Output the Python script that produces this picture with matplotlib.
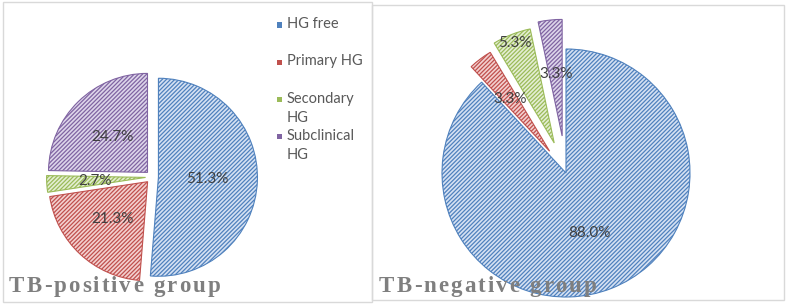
import matplotlib

matplotlib.use("Agg")

import matplotlib.pyplot as plt
from matplotlib.patches import Rectangle
from matplotlib.font_manager import FontProperties, findfont, get_font
import numpy as np

categories = ["HG free", "Primary HG", "Secondary HG", "Subclinical HG"]
legend_labels = ["HG free", "Primary HG", "Secondary\nHG", "Subclinical\nHG"]
tb_positive = [51.3, 21.3, 2.7, 24.7]
tb_negative = [88.0, 3.3, 5.3, 3.3]

line_colors = ["#4f81bd", "#c0504d", "#9bbb59", "#8064a2"]
fill_colors = ["#d5e1f3", "#f3d0cf", "#e4eed3", "#ddd5ea"]

plt.rcParams["font.family"] = ["Lato", "DejaVu Sans"]
plt.rcParams["hatch.linewidth"] = 0.9

W, H = 788, 306
fig = plt.figure(figsize=(W / 100, H / 100), dpi=100)


def px_axes(cx, cy, r, half=1.5):
    # axes centred on pixel (cx, cy) (from top), 1 data unit = r pixels
    size = 2 * half * r
    return fig.add_axes([(cx - half * r) / W, (H - cy - half * r) / H, size / W, size / H])


def draw_pie(ax, values, explode, label_dist, radii):
    wedges, _ = ax.pie(values, startangle=90, counterclock=False, explode=explode,
                       colors=fill_colors, radius=1.0,
                       wedgeprops=dict(linewidth=0.8))
    for w, c, rr in zip(wedges, line_colors, radii):
        w.set_edgecolor(c)
        w.set_hatch("////////")
        w.set_radius(rr)
    for w, v, d in zip(wedges, values, label_dist):
        ang = np.deg2rad((w.theta1 + w.theta2) / 2)
        ax.text(d * np.cos(ang), d * np.sin(ang), f"{v:.1f}%",
                ha="center", va="center", fontsize=11, color="#404040")
    ax.set_xlim(-1.5, 1.5)
    ax.set_ylim(-1.5, 1.5)
    ax.set_aspect("equal")
    ax.axis("off")


ax1 = px_axes(152, 177, 99)
draw_pie(ax1, tb_positive, [0.065] * 4, [0.56, 0.58, 0.58, 0.57], [1.0] * 4)

ax2 = px_axes(566, 173, 124)
draw_pie(ax2, tb_negative, [0.0, 0.22, 0.26, 0.3], [0.52, 0.75, 1.13, 0.8],
         [1.0, 0.93, 0.94, 0.94])

# panel frames
fig.patches.append(Rectangle((3 / W, 4 / H), 369 / W, 300 / H, transform=fig.transFigure,
                             fill=False, edgecolor="#d9d9d9", linewidth=1.0))
fig.patches.append(Rectangle((372 / W, 6 / H), 412 / W, 295 / H, transform=fig.transFigure,
                             fill=False, edgecolor="#d9d9d9", linewidth=1.0))

# legend (left panel)
leg_x, leg_y0, leg_step = 277, 25, 37.3
for i, (lab, c) in enumerate(zip(legend_labels, line_colors)):
    y = leg_y0 + i * leg_step
    fig.patches.append(Rectangle((leg_x / W, (H - y - 2.5) / H), 5 / W, 5 / H,
                                 transform=fig.transFigure, facecolor=c, edgecolor="none"))
    fig.text((leg_x + 10) / W, (H - y + 8) / H, lab, ha="left", va="top",
             fontsize=10.5, color="#595959", linespacing=1.5)

# letter-spaced serif titles, placed glyph by glyph from the font's advances
title_prop = FontProperties(family=["Liberation Serif", "DejaVu Serif"], weight="bold", size=16.5)
ft = get_font(findfont(title_prop))
ft.set_size(title_prop.get_size_in_points(), 100)


def spaced_title(x0, text, spacing=2.1):
    x = x0
    for ch in text:
        adv = ft.load_char(ord(ch)).linearHoriAdvance / 65536
        if ch != " ":
            fig.text(x / W, 14 / H, ch, fontproperties=title_prop, color="#7f7f7f",
                     ha="left", va="baseline", zorder=5)
        x += adv + spacing


spaced_title(9, "TB-positive group")
spaced_title(379, "TB-negative group")

fig.savefig("out.png", dpi=100)
